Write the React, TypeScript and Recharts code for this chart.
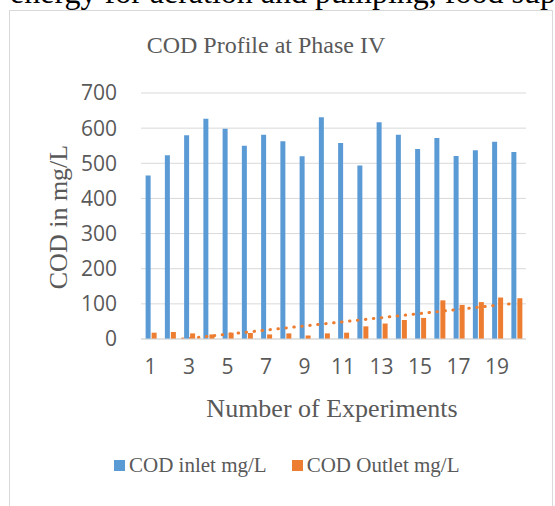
import React from 'react';
import { BarChart, Bar, XAxis, YAxis, CartesianGrid, ReferenceLine } from 'recharts';

const experiments = ['1', '2', '3', '4', '5', '6', '7', '8', '9', '10', '11', '12', '13', '14', '15', '16', '17', '18', '19', '20'];
const codInlet = [465, 523, 580, 627, 598, 550, 581, 563, 520, 631, 558, 494, 617, 581, 541, 572, 521, 537, 561, 532];
const codOutlet = [18, 20, 16, 13, 18, 17, 13, 16, 10, 16, 18, 36, 44, 54, 60, 110, 97, 105, 118, 116];
// linear trendline of the outlet series, read at first and last experiment
const outletTrend = [-10, 102];
const yTicks = [0, 100, 200, 300, 400, 500, 600, 700];

const BLUE = '#5B9BD5';
const ORANGE = '#ED7D31';
const GREY_TEXT = '#595959';
const SERIF = '"Liberation Serif", "Times New Roman", serif';
const SANS = '"Open Sans", "Liberation Sans", sans-serif';

const chartData = experiments.map((name, i) => ({
  name,
  inlet: codInlet[i],
  outlet: codOutlet[i],
}));

export default function App() {
  return (
    <div style={{ position: 'absolute', left: 0, top: 0, width: 555, height: 506, overflow: 'hidden', background: '#fff' }}>
      <div
        style={{
          position: 'absolute', left: 10, top: -24, fontFamily: SERIF, fontSize: 32, lineHeight: '32px',
          color: '#000', whiteSpace: 'nowrap',
        }}
      >
        energy for aeration and pumping, food supply
      </div>
      <div
        style={{
          position: 'absolute', left: 9, top: 10, width: 544, height: 520, boxSizing: 'border-box',
          border: '1px solid #D9D9D9', background: '#fff',
        }}
      />
      <div style={{ position: 'absolute', left: 0, top: 0 }}>
        <BarChart
          width={555}
          height={506}
          data={chartData}
          margin={{ top: 93, right: 29, bottom: 137, left: 0 }}
          barCategoryGap="24%"
          barGap={1}
        >
          <CartesianGrid vertical={false} stroke="#D9D9D9" strokeWidth={1} />
          <XAxis
            dataKey="name"
            interval={1}
            height={30}
            tickSize={0}
            tickMargin={20}
            axisLine={{ stroke: '#D9D9D9' }}
            tickLine={false}
            tick={{ fill: GREY_TEXT, fontSize: 21, fontFamily: SANS }}
          />
          <YAxis
            width={141}
            domain={[0, 700]}
            ticks={yTicks}
            tickSize={0}
            tickMargin={24}
            axisLine={false}
            tickLine={false}
            tick={{ fill: GREY_TEXT, fontSize: 21, fontFamily: SANS }}
          />
          <Bar dataKey="inlet" name="COD inlet mg/L" fill={BLUE} isAnimationActive={false} />
          <Bar dataKey="outlet" name="COD Outlet mg/L" fill={ORANGE} isAnimationActive={false} />
          <ReferenceLine
            segment={[
              { x: experiments[0], y: outletTrend[0] },
              { x: experiments[experiments.length - 1], y: outletTrend[1] },
            ]}
            ifOverflow="hidden"
            stroke={ORANGE}
            strokeWidth={3}
            strokeDasharray="0.5 7.5"
            strokeLinecap="round"
          />
        </BarChart>
      </div>
      <svg width={555} height={506} style={{ position: 'absolute', left: 0, top: 0, pointerEvents: 'none' }}>
        <text x={266} y={53} textAnchor="middle" fontFamily={SERIF} fontSize={24} fill={GREY_TEXT}>
          COD Profile at Phase IV
        </text>
        <text
          x={67}
          y={217}
          transform="rotate(-90 67 217)"
          textAnchor="middle"
          fontFamily={SERIF}
          fontSize={26}
          fill={GREY_TEXT}
        >
          COD in mg/L
        </text>
        <text x={332} y={417} textAnchor="middle" fontFamily={SERIF} fontSize={26} fill={GREY_TEXT}>
          Number of Experiments
        </text>
      </svg>
      <div
        style={{
          position: 'absolute', left: 114, top: 453, display: 'flex', alignItems: 'center',
          fontFamily: SERIF, fontSize: 21, lineHeight: '24px', color: GREY_TEXT, whiteSpace: 'nowrap',
        }}
      >
        <span style={{ width: 11, height: 11, background: BLUE, display: 'inline-block', marginRight: 4 }} />
        <span>COD inlet mg/L</span>
        <span style={{ width: 11, height: 11, background: ORANGE, display: 'inline-block', marginLeft: 25, marginRight: 4 }} />
        <span>COD Outlet mg/L</span>
      </div>
    </div>
  );
}
